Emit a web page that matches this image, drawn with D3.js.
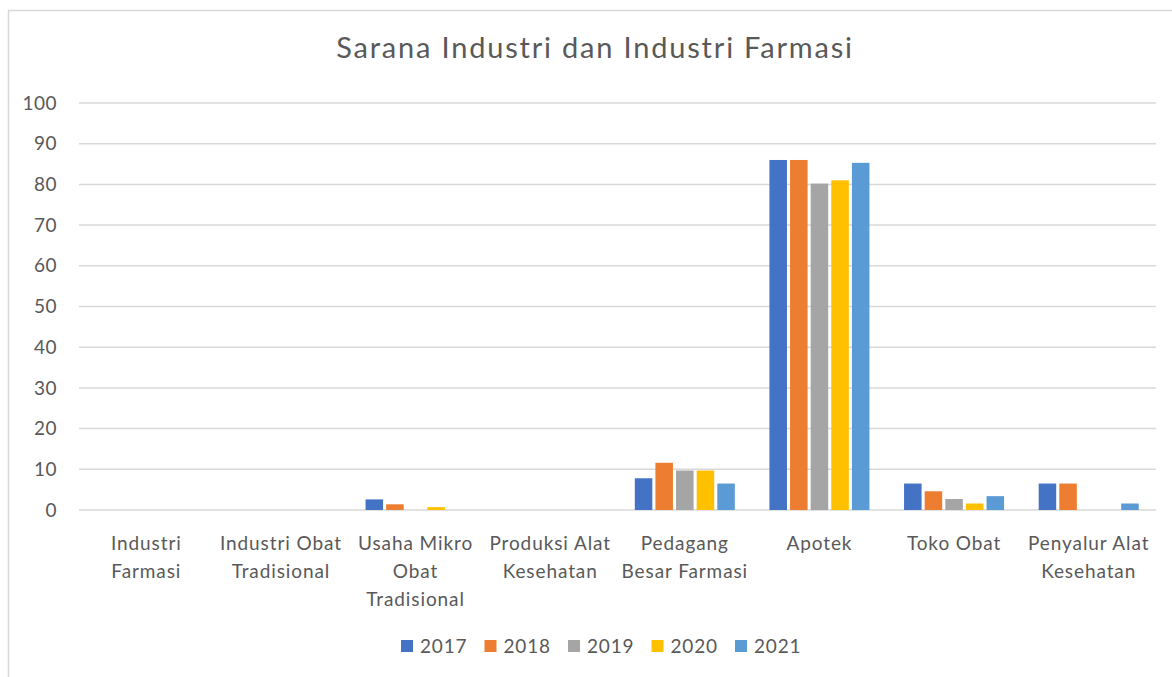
<!DOCTYPE html>
<html>
<head>
<meta charset="utf-8">
<script src="https://cdn.jsdelivr.net/npm/d3@7"></script>
<style>
  body { margin: 0; background: #fff; }
  svg text { font-family: Lato, "Open Sans", sans-serif; fill: #595959; }
</style>
</head>
<body>
<div id="chart"></div>
<script>
// categories (with how the labels wrap in the reference)
const categories = ["Industri Farmasi", "Industri Obat Tradisional", "Usaha Mikro Obat Tradisional",
  "Produksi Alat Kesehatan", "Pedagang Besar Farmasi", "Apotek", "Toko Obat", "Penyalur Alat Kesehatan"];
const categoryLines = [["Industri", "Farmasi"], ["Industri Obat", "Tradisional"], ["Usaha Mikro", "Obat", "Tradisional"],
  ["Produksi Alat", "Kesehatan"], ["Pedagang", "Besar Farmasi"], ["Apotek"], ["Toko Obat"], ["Penyalur Alat", "Kesehatan"]];

const years = ["2017", "2018", "2019", "2020", "2021"];
const v2017 = [0, 0, 2.6, 0, 7.8, 86.0, 6.5, 6.5];
const v2018 = [0, 0, 1.4, 0, 11.6, 86.0, 4.6, 6.5];
const v2019 = [0, 0, 0, 0, 9.7, 80.2, 2.7, 0];
const v2020 = [0, 0, 0.7, 0, 9.7, 81.0, 1.6, 0];
const v2021 = [0, 0, 0, 0, 6.5, 85.3, 3.4, 1.6];
const yTicks = [0, 10, 20, 30, 40, 50, 60, 70, 80, 90, 100];
const colors = ["#4472C4", "#ED7D31", "#A5A5A5", "#FFC000", "#5B9BD5"];

const series = [v2017, v2018, v2019, v2020, v2021];
const width = 1172, height = 677;

const svg = d3.select("#chart").append("svg")
  .attr("width", width)
  .attr("height", height);

// chart area border
svg.append("rect")
  .attr("x", 8.5).attr("y", 10.5)
  .attr("width", 1200).attr("height", 700)
  .attr("fill", "none")
  .attr("stroke", "#D9D9D9")
  .attr("stroke-width", 1.5);

svg.append("text")
  .attr("x", 595).attr("y", 58)
  .attr("text-anchor", "middle")
  .attr("font-size", 29)
  .attr("letter-spacing", 1.8)
  .text("Sarana Industri dan Industri Farmasi");

const x0 = d3.scaleBand()
  .domain(categories)
  .range([79, 1156])
  .paddingInner(0.257)
  .paddingOuter(0.1285);

const x1 = d3.scaleBand()
  .domain(years)
  .range([0, x0.bandwidth()])
  .paddingInner(0.15);

const y = d3.scaleLinear()
  .domain([0, 100])
  .range([510, 103]);

// gridlines
svg.append("g")
  .selectAll("line")
  .data(yTicks)
  .enter()
  .append("line")
  .attr("x1", 79).attr("x2", 1156)
  .attr("y1", d => y(d)).attr("y2", d => y(d))
  .attr("stroke", "#D9D9D9")
  .attr("stroke-width", 1.5);

// y tick labels
svg.append("g")
  .selectAll("text")
  .data(yTicks)
  .enter()
  .append("text")
  .attr("x", 57)
  .attr("y", d => y(d))
  .attr("dy", "0.35em")
  .attr("text-anchor", "end")
  .attr("font-size", 19)
  .attr("letter-spacing", 0.5)
  .text(d => d);

// bars
const groups = svg.append("g")
  .selectAll("g")
  .data(categories)
  .enter()
  .append("g")
  .attr("transform", d => "translate(" + x0(d) + ",0)");

groups.selectAll("rect")
  .data((d, i) => years.map((yr, j) => ({ year: yr, value: series[j][i], color: colors[j] })))
  .enter()
  .append("rect")
  .attr("x", d => x1(d.year))
  .attr("width", x1.bandwidth())
  .attr("y", d => y(d.value))
  .attr("height", d => y(0) - y(d.value))
  .attr("fill", d => d.color);

// category labels
svg.append("g")
  .selectAll("text")
  .data(categories)
  .enter()
  .append("text")
  .attr("text-anchor", "middle")
  .attr("font-size", 19)
  .attr("letter-spacing", 0.9)
  .each(function (d, i) {
    const cx = x0(d) + x0.bandwidth() / 2;
    d3.select(this).selectAll("tspan")
      .data(categoryLines[i])
      .enter()
      .append("tspan")
      .attr("x", cx)
      .attr("y", (l, k) => 550 + k * 28)
      .text(l => l);
  });

// legend
const legend = svg.append("g")
  .selectAll("g")
  .data(years)
  .enter()
  .append("g")
  .attr("transform", (d, i) => "translate(" + (401 + i * 83.5) + ",646)");

legend.append("rect")
  .attr("x", 0).attr("y", -6)
  .attr("width", 12).attr("height", 12)
  .attr("fill", (d, i) => colors[i]);

legend.append("text")
  .attr("x", 19)
  .attr("dy", "0.35em")
  .attr("font-size", 19)
  .attr("letter-spacing", 0.8)
  .text(d => d);
</script>
</body>
</html>
